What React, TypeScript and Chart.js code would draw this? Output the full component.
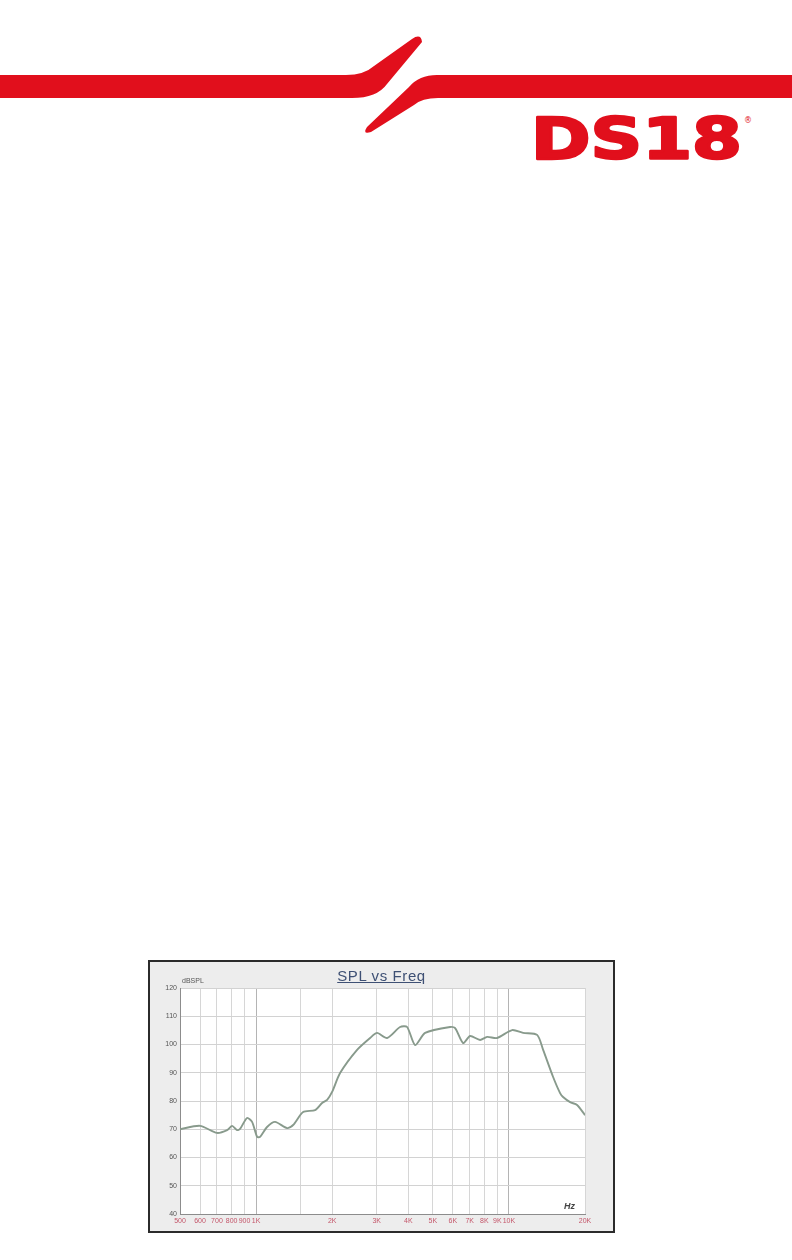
import React, { useEffect, useRef } from "react";
import { Chart, registerables } from "chart.js";

Chart.register(...registerables);

const FREQ_HZ = [
  500, 600, 700, 768, 804, 841, 864, 921, 964, 1009, 1037, 1105, 1189, 1326, 1401,
  1535, 1712, 1824, 1910, 1998, 2149, 2509, 2824, 3010, 3298, 3712, 3957, 4256, 4662,
  5853, 6128, 6591, 7023, 7692, 8200, 8981, 10300, 11380, 12930, 13660, 14960, 15940,
  16380, 17460, 18610, 20000,
];
const SPL_DB = [
  70.0, 71.2, 68.7, 69.7, 71.2, 69.7, 70.1, 74.0, 72.6, 67.3, 67.3, 70.8, 72.6, 70.4, 71.5,
  76.1, 76.8, 79.3, 80.4, 83.2, 89.9, 98.1, 102.3, 104.1, 102.3, 106.2, 106.2, 99.8, 104.1,
  106.2, 105.8, 100.5, 103.0, 101.6, 102.7, 102.3, 105.1, 104.1, 103.4, 98.1, 88.5, 82.8,
  81.4, 79.6, 78.6, 75.0,
];
const X_TICKS = [500, 600, 700, 800, 900, 1000, 1500, 2000, 3000, 4000, 5000, 6000, 7000, 8000, 9000, 10000, 20000];
const X_TICK_LABELS = ["500", "600", "700", "800", "900", "1K", "", "2K", "3K", "4K", "5K", "6K", "7K", "8K", "9K", "10K", "20K"];
const Y_TICKS = [40, 50, 60, 70, 80, 90, 100, 110, 120];

const TITLE = "SPL vs Freq";
const Y_UNIT = "dBSPL";
const X_UNIT = "Hz";
const RED = "#e10f1c";

const plotBg = {
  id: "plotBg",
  beforeDraw(chart: any) {
    const { ctx, chartArea } = chart;
    ctx.save();
    ctx.fillStyle = "#ffffff";
    ctx.fillRect(chartArea.left, chartArea.top, chartArea.right - chartArea.left, chartArea.bottom - chartArea.top);
    ctx.restore();
  },
};

function SplChart() {
  const ref = useRef<HTMLCanvasElement | null>(null);
  useEffect(() => {
    if (!ref.current) return;
    const chart = new Chart(ref.current, {
      type: "line",
      data: {
        datasets: [
          {
            data: FREQ_HZ.map((f, i) => ({ x: f, y: SPL_DB[i] })),
            borderColor: "#889a8c",
            borderWidth: 1.9,
            pointRadius: 0,
            tension: 0.25,
            fill: false,
          },
        ],
      },
      plugins: [plotBg],
      options: {
        animation: false,
        responsive: false,
        maintainAspectRatio: false,
        layout: { padding: { left: 0, top: 26, right: 28, bottom: 0 } },
        plugins: { legend: { display: false }, tooltip: { enabled: false }, title: { display: false } },
        scales: {
          x: {
            type: "logarithmic",
            min: 500,
            max: 20000,
            afterBuildTicks: (axis: any) => {
              axis.ticks = X_TICKS.map((v) => ({ value: v }));
            },
            afterFit: (scale: any) => {
              scale.height = 17;
            },
            ticks: {
              autoSkip: false,
              maxRotation: 0,
              padding: 3,
              color: "#c4566a",
              font: { size: 7, family: "'Liberation Sans', Arial, sans-serif" },
              callback: (_v: any, i: number) => X_TICK_LABELS[i],
            },
            grid: {
              drawTicks: false,
              lineWidth: 1,
              color: (c: any) =>
                c.tick && (c.tick.value === 1000 || c.tick.value === 10000) ? "#b4b4b4" : "#d6d6d6",
            },
            border: { display: true, color: "#8c8c8c", width: 1 },
          },
          y: {
            min: 40,
            max: 120,
            afterBuildTicks: (axis: any) => {
              axis.ticks = Y_TICKS.map((v) => ({ value: v }));
            },
            afterFit: (scale: any) => {
              scale.width = 30;
            },
            ticks: {
              padding: 3,
              color: "#555555",
              font: { size: 7, family: "'Liberation Sans', Arial, sans-serif" },
            },
            grid: { drawTicks: false, color: "#d2d2d2", lineWidth: 1 },
            border: { display: true, color: "#8c8c8c", width: 1 },
          },
        },
      },
    });
    return () => chart.destroy();
  }, []);
  return <canvas ref={ref} width={463} height={269} style={{ display: "block", width: 463, height: 269 }} />;
}

export default function App() {
  useEffect(() => {
    document.body.style.margin = "0";
    document.body.style.background = "#ffffff";
  }, []);
  return (
    <div style={{ position: "absolute", left: 0, top: 0, width: 792, height: 1260, background: "#fff", overflow: "hidden" }}>
      <svg width={792} height={175} style={{ position: "absolute", left: 0, top: 0 }}>
        <path
          d="M0,75 L346,75 Q364,75 374,66 L412,39 Q421,33 422,42 L387,84 Q377,98 352,98 L0,98 Z"
          fill={RED}
        />
        <path
          d="M792,75 L437,75 Q419,75 409,87 L367,127 Q362,135 371,132 L414,105 Q422,98 438,98 L792,98 Z"
          fill={RED}
        />
        <text
          x={531}
          y={159}
          fill={RED}
          stroke={RED}
          strokeWidth={2.5}
          strokeLinejoin="round"
          fontFamily="'DejaVu Sans', sans-serif"
          fontWeight="bold"
          fontSize={57}
          textLength={211}
          lengthAdjust="spacingAndGlyphs"
        >
          DS18
        </text>
        <text x={744} y={123} fill={RED} fontFamily="'DejaVu Sans', sans-serif" fontSize={8}>
          ®
        </text>
      </svg>
      <div
        style={{
          position: "absolute",
          left: 148,
          top: 960,
          width: 467,
          height: 273,
          boxSizing: "border-box",
          border: "2px solid #2b2b2b",
          background: "#ededed",
        }}
      >
        <SplChart />
        <div
          style={{
            position: "absolute",
            left: 0,
            width: 463,
            top: 5,
            textAlign: "center",
            fontFamily: "'Liberation Sans', Arial, sans-serif",
            fontSize: 15,
            letterSpacing: 0.6,
            color: "#3e5074",
            textDecoration: "underline",
            lineHeight: "18px",
          }}
        >
          {TITLE}
        </div>
        <div
          style={{
            position: "absolute",
            left: 32,
            top: 15,
            fontFamily: "'Liberation Sans', Arial, sans-serif",
            fontSize: 7,
            color: "#555",
            lineHeight: "8px",
          }}
        >
          {Y_UNIT}
        </div>
        <div
          style={{
            position: "absolute",
            left: 414,
            top: 239,
            fontFamily: "'Liberation Sans', Arial, sans-serif",
            fontSize: 9,
            fontStyle: "italic",
            fontWeight: "bold",
            color: "#444",
            lineHeight: "10px",
          }}
        >
          {X_UNIT}
        </div>
      </div>
    </div>
  );
}
